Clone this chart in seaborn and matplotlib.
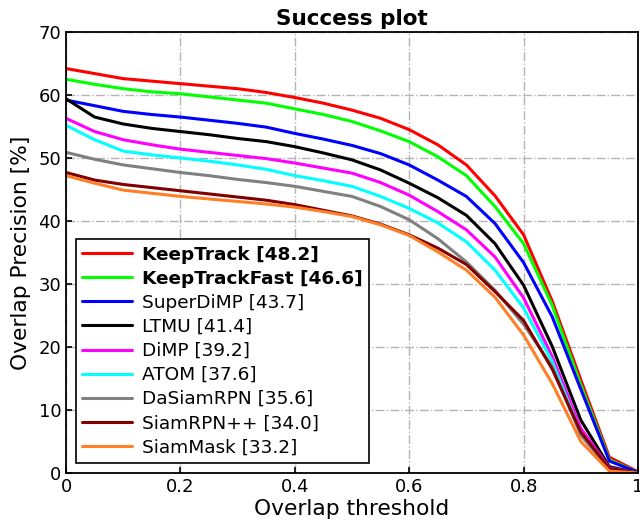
import numpy as np
import pandas as pd
import matplotlib
matplotlib.use("Agg")
import matplotlib.pyplot as plt
import seaborn as sns

thresholds = [0.0, 0.05, 0.1, 0.15, 0.2, 0.25, 0.3, 0.35, 0.4, 0.45, 0.5,
              0.55, 0.6, 0.65, 0.7, 0.75, 0.8, 0.85, 0.9, 0.95, 1.0]

keeptrack = [64.2, 63.4, 62.6, 62.2, 61.8, 61.4, 61.0, 60.4, 59.6, 58.7, 57.6,
             56.3, 54.5, 52.1, 48.9, 44.0, 37.8, 27.3, 14.8, 2.5, 0.2]
keeptrackfast = [62.5, 61.7, 61.0, 60.5, 60.2, 59.7, 59.2, 58.7, 57.8, 56.9, 55.8,
                 54.3, 52.6, 50.2, 47.2, 42.3, 36.4, 26.6, 14.0, 2.1, 0.1]
superdimp = [59.2, 58.3, 57.4, 56.9, 56.5, 56.0, 55.5, 54.9, 53.9, 53.0, 52.0,
             50.7, 48.9, 46.5, 43.9, 39.6, 33.4, 24.8, 13.3, 1.9, 0.1]
ltmu = [59.4, 56.5, 55.4, 54.7, 54.2, 53.7, 53.1, 52.6, 51.8, 50.8, 49.7,
        48.1, 46.0, 43.7, 40.9, 36.4, 29.8, 20.1, 8.4, 1.0, 0.0]
dimp = [56.3, 54.2, 52.9, 52.1, 51.4, 50.9, 50.4, 49.9, 49.2, 48.4, 47.6,
        46.1, 44.1, 41.5, 38.6, 34.3, 27.8, 18.5, 7.1, 0.8, 0.0]
atom = [55.2, 52.9, 51.1, 50.5, 50.0, 49.5, 48.9, 48.2, 47.2, 46.4, 45.5,
        43.9, 42.0, 39.7, 36.7, 32.2, 26.2, 17.7, 6.3, 0.6, 0.0]
dasiamrpn = [50.9, 49.8, 48.9, 48.3, 47.7, 47.2, 46.6, 46.1, 45.5, 44.7, 43.9,
             42.3, 40.2, 37.2, 33.5, 29.0, 23.6, 16.9, 6.0, 0.6, 0.0]
siamrpnpp = [47.7, 46.5, 45.8, 45.3, 44.8, 44.3, 43.8, 43.3, 42.6, 41.7, 40.8,
             39.5, 37.8, 35.7, 33.1, 28.8, 24.2, 16.5, 6.5, 0.7, 0.0]
siammask = [47.2, 46.0, 44.9, 44.4, 43.9, 43.5, 43.1, 42.7, 42.2, 41.5, 40.7,
            39.4, 37.7, 35.1, 32.2, 27.9, 21.9, 14.2, 5.0, 0.3, 0.0]

labels = ["KeepTrack [48.2]", "KeepTrackFast [46.6]", "SuperDiMP [43.7]",
          "LTMU [41.4]", "DiMP [39.2]", "ATOM [37.6]", "DaSiamRPN [35.6]",
          "SiamRPN++ [34.0]", "SiamMask [33.2]"]
series = [keeptrack, keeptrackfast, superdimp, ltmu, dimp, atom,
          dasiamrpn, siamrpnpp, siammask]
colors = ["#ff0000", "#00ff00", "#0000ff", "#000000", "#ff00ff",
          "#00ffff", "#808080", "#800000", "#ff7f27"]

rows = []
for lab, vals in zip(labels, series):
    for t, v in zip(thresholds, vals):
        rows.append({"Overlap threshold": t, "Overlap Precision [%]": v, "Tracker": lab})
df = pd.DataFrame(rows)

sns.set_theme(style="white")
plt.rcParams['font.family'] = ['DejaVu Sans']

fig = plt.figure(figsize=(6.4, 5.29), dpi=100)
ax = fig.add_axes([66 / 640, 1 - 473 / 529, 572 / 640, 441 / 529])

sns.lineplot(data=df, x="Overlap threshold", y="Overlap Precision [%]",
             hue="Tracker", hue_order=labels, palette=dict(zip(labels, colors)),
             linewidth=2.2, ax=ax, legend=True)

ax.set_xlim(0, 1)
ax.set_ylim(0, 70)
ax.set_xticks([0, 0.2, 0.4, 0.6, 0.8, 1.0])
ax.set_xticklabels(["0", "0.2", "0.4", "0.6", "0.8", "1"])
ax.set_yticks(range(0, 71, 10))
ax.tick_params(direction="in", labelsize=13, length=4, width=1.2, colors="black",
               bottom=True, left=True)
ax.grid(True, linestyle="-.", color="#b4b4b4", linewidth=1.0)
for sp in ax.spines.values():
    sp.set_color("black")
    sp.set_linewidth(1.3)

ax.set_xlabel("Overlap threshold", fontsize=15.7, color="black", labelpad=2)
ax.set_ylabel("Overlap Precision [%]", fontsize=15.7, color="black", labelpad=5)
ax.set_title("Success plot", fontsize=15.5, fontweight="bold", color="black", pad=5)

leg = ax.legend(loc="lower left", bbox_to_anchor=(0.0175, 0.023), fontsize=13.3,
                frameon=True, fancybox=False, edgecolor="black", framealpha=1,
                handlelength=2.7, borderpad=0.35, labelspacing=0.33,
                handletextpad=0.5, borderaxespad=0.0)
leg.get_frame().set_linewidth(1.2)
for i, txt in enumerate(leg.get_texts()):
    txt.set_color("black")
    if i < 2:
        txt.set_fontweight("bold")
for line in leg.get_lines():
    line.set_linewidth(2.2)

fig.savefig("out.png", dpi=100)
